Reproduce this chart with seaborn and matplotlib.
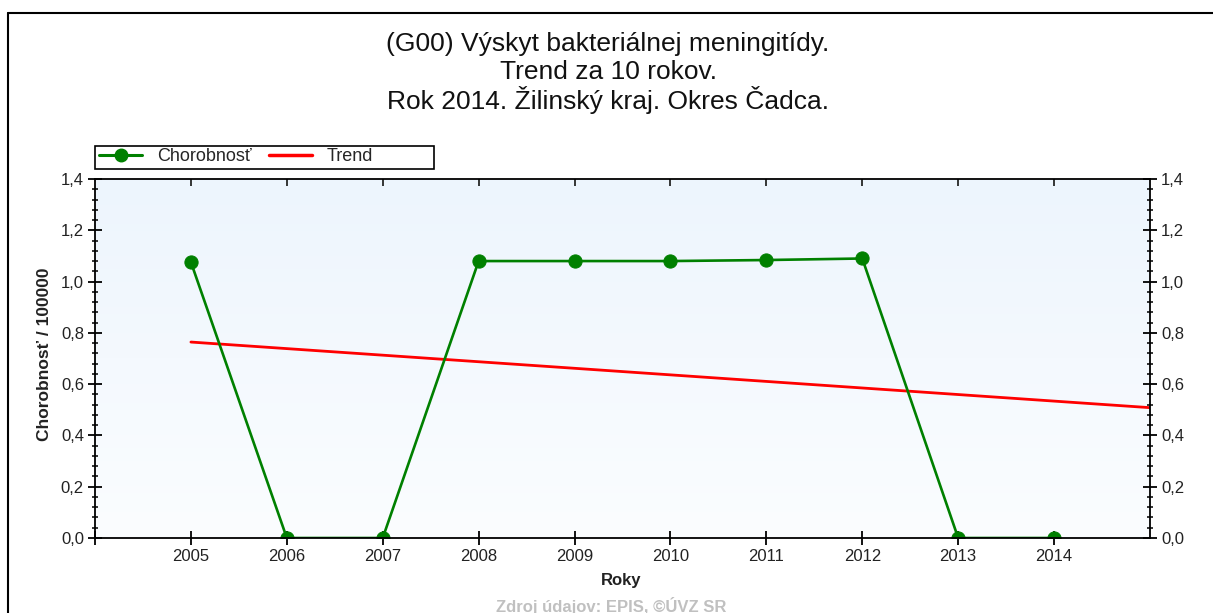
import numpy as np
import pandas as pd
import matplotlib
matplotlib.use("Agg")
import matplotlib.pyplot as plt
import seaborn as sns
from matplotlib.lines import Line2D
from matplotlib.patches import Rectangle
from matplotlib.ticker import FuncFormatter, MultipleLocator, FixedLocator

# Incidence of bacterial meningitis per 100 000 inhabitants, Čadca district
years = [2005, 2006, 2007, 2008, 2009, 2010, 2011, 2012, 2013, 2014]
incidence = [1.076, 0.0, 0.0, 1.080, 1.080, 1.080, 1.084, 1.090, 0.0, 0.0]

title_lines = [
    "(G00) Výskyt bakteriálnej meningitídy.",
    "Trend za 10 rokov.",
    "Rok 2014. Žilinský kraj. Okres Čadca.",
]
series_label = "Chorobnosť"
trend_label = "Trend"
y_label = "Chorobnosť / 100000"
x_label = "Roky"
source_note = "Zdroj údajov: EPIS, ©ÚVZ SR"

GREEN = "#008000"
RED = "#ff0000"

sns.set_theme(style="white")
plt.rcParams["font.family"] = ["Liberation Sans", "DejaVu Sans"]

W, H = 1213, 613
fig = plt.figure(figsize=(W / 100, H / 100), dpi=100)
fig.patch.set_facecolor("white")


def px_box(x0, y0, x1, y1):
    """Pixel box (top-left origin) -> figure fraction rect."""
    return [x0 / W, 1 - y1 / H, (x1 - x0) / W, (y1 - y0) / H]


ax = fig.add_axes(px_box(95, 179, 1150, 538))

# soft vertical gradient in the plotting area
x_min, x_max = years[0] - 1, years[-1] + 1
y_min, y_max = 0.0, 1.4
top_c = np.array([237, 245, 253]) / 255
bot_c = np.array([251, 253, 255]) / 255
t = np.linspace(0, 1, 256)[:, None]
grad = (top_c * (1 - t) + bot_c * t)[:, None, :]
ax.imshow(grad, extent=[x_min, x_max, y_min, y_max], aspect="auto",
          origin="upper", zorder=0, interpolation="bilinear")

df = pd.DataFrame({"Rok": years, "Chorobnost": incidence})
sns.lineplot(data=df, x="Rok", y="Chorobnost", ax=ax, color=GREEN,
             linewidth=1.9, marker="o", markersize=9.5,
             markeredgecolor=GREEN, markerfacecolor=GREEN, zorder=3)

# least-squares trend, drawn from the first year to the right edge
slope, intercept = np.polyfit(years, incidence, 1)
trend_x = [years[0], x_max]
trend_df = pd.DataFrame({"Rok": trend_x,
                         "Trend": [slope * v + intercept for v in trend_x]})
sns.lineplot(data=trend_df, x="Rok", y="Trend", ax=ax, color=RED,
             linewidth=2.0, zorder=2)

ax.set_xlim(x_min, x_max)
ax.set_ylim(y_min, y_max)
ax.set_xlabel("")
ax.set_ylabel("")

for s in ax.spines.values():
    s.set_visible(True)
    s.set_color("black")
    s.set_linewidth(1.3)
    s.set_zorder(5)

comma = FuncFormatter(lambda v, p: f"{v:.1f}".replace(".", ","))
ax.yaxis.set_major_locator(MultipleLocator(0.2))
ax.yaxis.set_minor_locator(MultipleLocator(0.04))
ax.yaxis.set_major_formatter(comma)
ax.tick_params(axis="y", which="both", left=True, right=True,
               labelleft=True, labelright=True, direction="inout",
               colors="black", labelsize=12, pad=3)
ax.tick_params(axis="y", which="major", length=10, width=1.3)
ax.tick_params(axis="y", which="minor", length=5, width=1.1)

ax.xaxis.set_major_locator(FixedLocator([x_min] + years))
ax.xaxis.set_major_formatter(
    FuncFormatter(lambda v, p: str(int(round(v))) if round(v) in years else ""))
ax.tick_params(axis="x", which="major", bottom=True, top=False,
               direction="inout", length=10, width=1.3, labelsize=12,
               pad=3, colors="black")

top = ax.secondary_xaxis("top")
top.set_xticks(years)
top.tick_params(axis="x", direction="in", length=5, width=1.3,
                labeltop=False)
top.spines["top"].set_visible(False)

for lbl in ax.get_xticklabels() + ax.get_yticklabels():
    lbl.set_color("#222222")

# axis titles
fig.text(45 / W, 1 - 354 / H, y_label, rotation=90, ha="center", va="center",
         fontsize=12.5, fontweight="bold", color="#222222")
fig.text(621 / W, 1 - 580 / H, x_label, ha="center", va="center",
         fontsize=12, fontweight="bold", color="#222222")

# title block
for i, line in enumerate(title_lines):
    fig.text(608 / W, 1 - (44 + i * 28) / H, line, ha="center", va="center",
             fontsize=19, color="#111111")

# source note
fig.text(611 / W, 1 - 606 / H, source_note, ha="center", va="center",
         fontsize=12, fontweight="bold", color="#c0c0c0")

# legend with its own frame
fig.patches.append(Rectangle((95 / W, 1 - 169 / H), (434 - 95) / W, 23 / H,
                             transform=fig.transFigure, facecolor="white",
                             edgecolor="black", linewidth=1.2))
handles = [
    Line2D([], [], color=GREEN, linewidth=2.2, marker="o", markersize=9,
           markerfacecolor=GREEN, markeredgecolor=GREEN),
    Line2D([], [], color=RED, linewidth=2.5),
]
fig.legend(handles, [series_label, trend_label], loc="center left",
           bbox_to_anchor=(99 / W, 1 - 157 / H), ncol=2, frameon=False,
           fontsize=13, handlelength=2.4, handletextpad=0.8,
           columnspacing=0.95, borderpad=0, borderaxespad=0)

# outer border of the picture
fig.add_artist(Line2D([7.5 / W, 1.0], [1 - 12.5 / H, 1 - 12.5 / H],
                      transform=fig.transFigure, color="black", linewidth=1.5))
fig.add_artist(Line2D([7.5 / W, 7.5 / W], [0.0, 1 - 12.5 / H],
                      transform=fig.transFigure, color="black", linewidth=1.5))

fig.savefig("out.png", dpi=100, facecolor="white")
